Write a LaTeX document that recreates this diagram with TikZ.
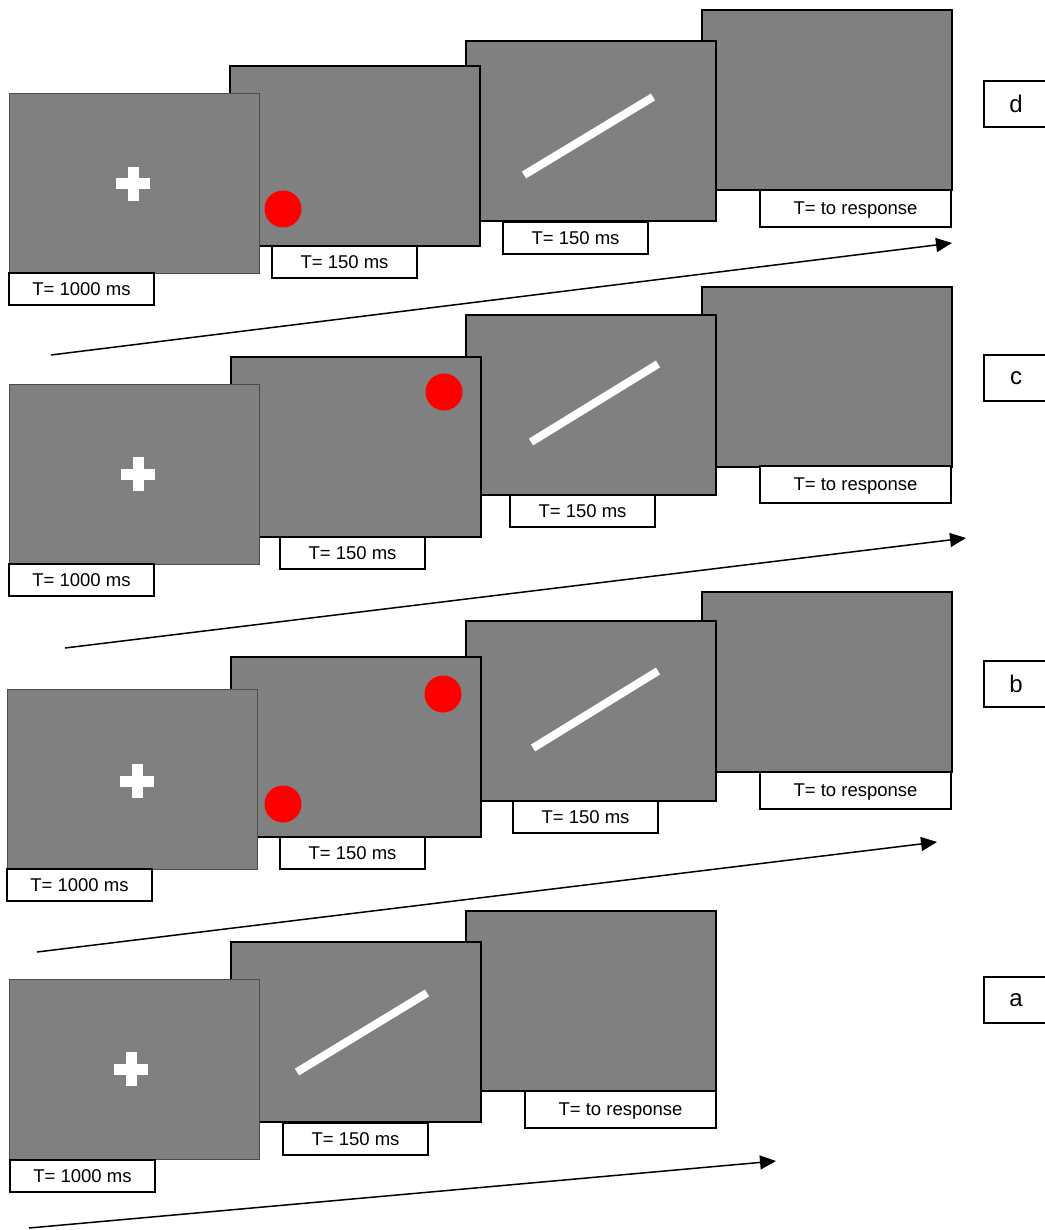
\documentclass[tikz,border=0pt]{standalone}
\usepackage{fontspec}
\setmainfont{Liberation Sans}
\usetikzlibrary{arrows.meta,calc}

\definecolor{screengray}{HTML}{808080}
\definecolor{dotred}{HTML}{FF0000}

\tikzset{
  screen/.style={draw=black, line width=1.6pt, fill=screengray, anchor=north west,
    minimum width=250pt, minimum height=180pt, inner sep=0pt, outer sep=0pt},
  fixscreen/.style={screen, draw=black!70, line width=1pt},
  timebox/.style={draw=black, line width=1.5pt, fill=white, anchor=north west,
    minimum height=32pt, inner sep=0pt, outer sep=0pt, text depth=0pt,
    font=\fontsize{18.5}{20}\selectfont},
  shortbox/.style={timebox, minimum width=145pt},
  longbox/.style={timebox, minimum width=191pt, minimum height=37pt},
  condbox/.style={draw=black, line width=1.5pt, fill=white, anchor=north west,
    minimum width=64pt, minimum height=46pt, inner sep=0pt, outer sep=0pt,
    text depth=0pt, font=\fontsize{24}{26}\selectfont},
  bar/.style={white, line width=8pt},
  dot/.style={fill=dotred},
  timeline/.style={black, line width=1.5pt, -{Triangle[length=16pt,width=14pt]}},
}

% white fixation cross centred at #1
\newcommand{\fixcross}[1]{%
  \fill[white] ($#1+(-17,-5.5)$) rectangle ($#1+(17,5.5)$);
  \fill[white] ($#1+(-5.5,-17)$) rectangle ($#1+(5.5,17)$);}

\begin{document}
\begin{tikzpicture}[x=1pt, y=-1pt]
\useasboundingbox (0,0) rectangle (1044,1230);

%---------------- condition d ----------------
\node[screen] (d4) at (702,10) {};
\node[longbox] (d4t) at (760,190) {T= to response};
\node[screen] (d3) at (466,41) {};
\draw[bar] (524,175) -- (653,97);
\node[shortbox] (d3t) at (503,222) {T= 150 ms};
\node[screen] (d2) at (230,66) {};
\fill[dot] (283,209) circle (18.5);
\node[shortbox] (d2t) at (272,246) {T= 150 ms};
\node[fixscreen] (d1) at (9,94) {};
\fixcross{(133,184)}
\node[shortbox] (d1t) at (9,273) {T= 1000 ms};
\coordinate (dA) at (51,355);
\coordinate (dB) at (952,243);
\draw[timeline] (dA) -- (dB);
\node[condbox] (dl) at (984,81) {d};

%---------------- condition c ----------------
\node[screen] (c4) at (702,287) {};
\node[longbox] (c4t) at (760,466) {T= to response};
\node[screen] (c3) at (466,315) {};
\draw[bar] (531,442) -- (658,364);
\node[shortbox] (c3t) at (510,495) {T= 150 ms};
\node[screen] (c2) at (231,357) {};
\fill[dot] (444,392) circle (18.5);
\node[shortbox] (c2t) at (280,537) {T= 150 ms};
\node[fixscreen] (c1) at (9,384) {};
\fixcross{(138,474)}
\node[shortbox] (c1t) at (9,564) {T= 1000 ms};
\coordinate (cA) at (65,648);
\coordinate (cB) at (966,538);
\draw[timeline] (cA) -- (cB);
\node[condbox] (cl) at (984,355) {c};

%---------------- condition b ----------------
\node[screen] (b4) at (702,592) {};
\node[longbox] (b4t) at (760,772) {T= to response};
\node[screen] (b3) at (466,621) {};
\draw[bar] (533,748) -- (658,671);
\node[shortbox] (b3t) at (513,801) {T= 150 ms};
\node[screen] (b2) at (231,657) {};
\fill[dot] (443,694) circle (18.5);
\fill[dot] (283,804) circle (18.5);
\node[shortbox] (b2t) at (280,837) {T= 150 ms};
\node[fixscreen] (b1) at (7,689) {};
\fixcross{(137,781)}
\node[shortbox] (b1t) at (7,869) {T= 1000 ms};
\coordinate (bA) at (37,952);
\coordinate (bB) at (937,842);
\draw[timeline] (bA) -- (bB);
\node[condbox] (bl) at (984,661) {b};

%---------------- condition a ----------------
\node[screen] (a3) at (466,911) {};
\node[longbox] (a3t) at (525,1091) {T= to response};
\node[screen] (a2) at (231,942) {};
\draw[bar] (297,1072) -- (427,993);
\node[shortbox] (a2t) at (283,1123) {T= 150 ms};
\node[fixscreen] (a1) at (9,979) {};
\fixcross{(131,1069)}
\node[shortbox] (a1t) at (10,1160) {T= 1000 ms};
\coordinate (aA) at (29,1228);
\coordinate (aB) at (776,1161);
\draw[timeline] (aA) -- (aB);
\node[condbox] (al) at (984,977) {a};
\end{tikzpicture}
\end{document}
